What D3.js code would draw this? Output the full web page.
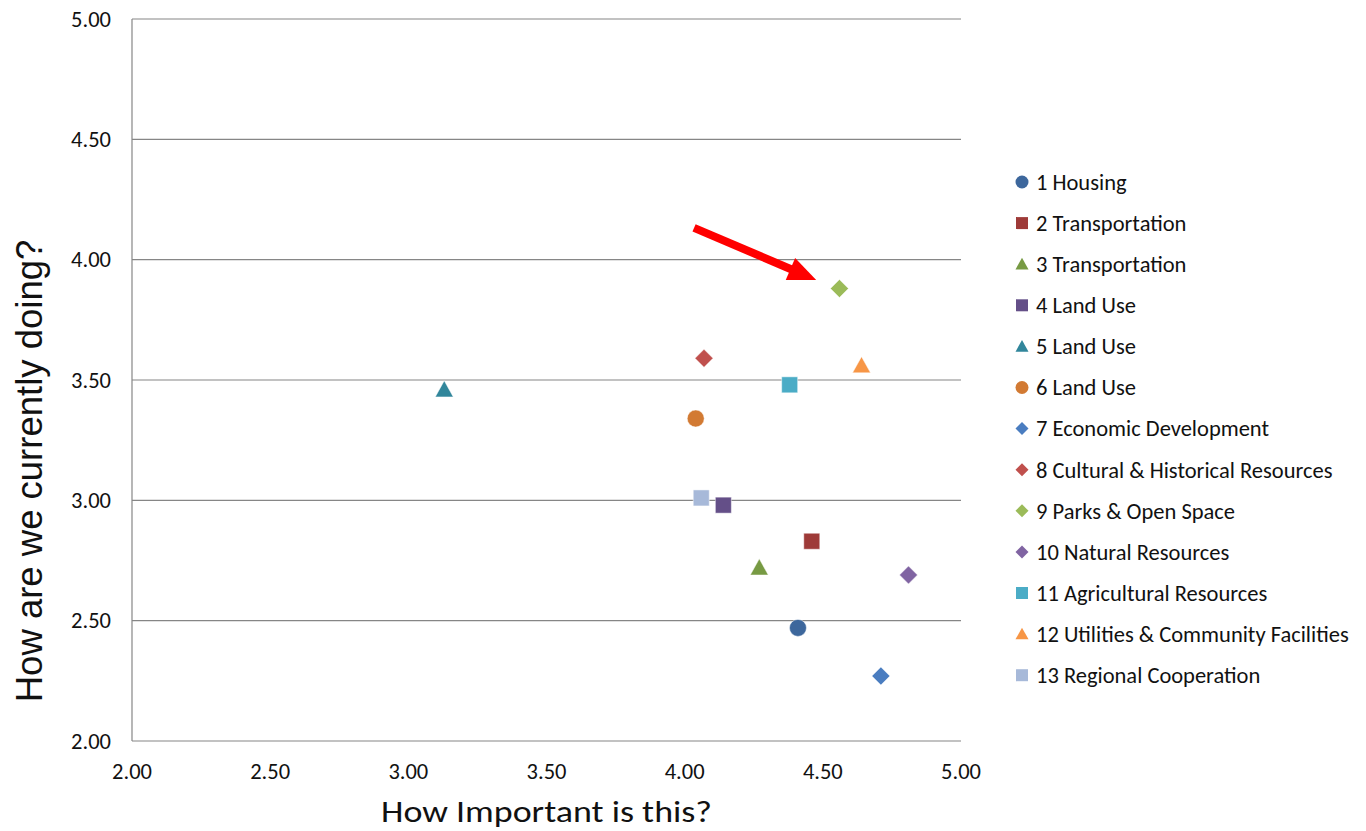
<!DOCTYPE html>
<html>
<head>
<meta charset="utf-8">
<script src="https://cdn.jsdelivr.net/npm/d3@7"></script>
<style>
  body { margin: 0; background: #fff; }
  svg text { font-family: Calibri, Carlito, Lato, "Open Sans", sans-serif; fill: #111; }
</style>
</head>
<body>
<div id="chart"></div>
<script>
// topic names, numbered as in the survey
const topics = [
  '1 Housing', '2 Transportation', '3 Transportation', '4 Land Use', '5 Land Use',
  '6 Land Use', '7 Economic Development', '8 Cultural & Historical Resources',
  '9 Parks & Open Space', '10 Natural Resources', '11 Agricultural Resources',
  '12 Utilities & Community Facilities', '13 Regional Cooperation'
];
// How important is this?
const importance = [4.41, 4.46, 4.27, 4.14, 3.13, 4.04, 4.71, 4.07, 4.56, 4.81, 4.38, 4.64, 4.06];
// How are we currently doing?
const performance = [2.47, 2.83, 2.72, 2.98, 3.46, 3.34, 2.27, 3.59, 3.88, 2.69, 3.48, 3.56, 3.01];
const shapes = ['circle', 'square', 'triangle', 'square', 'triangle', 'circle', 'diamond',
  'diamond', 'diamond', 'diamond', 'square', 'triangle', 'square'];
const colors = ['#3d679c', '#9e3a38', '#779a43', '#644f88', '#31869b', '#d27a33', '#4a7dc0',
  '#c0504d', '#9bbb59', '#8064a2', '#4bacc6', '#f79646', '#a7b9d9'];
const tickValues = [2.0, 2.5, 3.0, 3.5, 4.0, 4.5, 5.0];
// annotation arrow, in data units [importance, performance]
const arrowFrom = [4.034, 4.132];
const arrowTo = [4.476, 3.916];

const data = topics.map((name, i) => ({
  name: name,
  x: importance[i],
  y: performance[i],
  shape: shapes[i],
  color: colors[i]
}));

const width = 1366, height = 831;
const margin = { top: 19, left: 132, right: 405, bottom: 90 };
const plotW = width - margin.left - margin.right;
const plotH = height - margin.top - margin.bottom;

const svg = d3.select('#chart').append('svg')
  .attr('width', width)
  .attr('height', height);

const g = svg.append('g')
  .attr('transform', `translate(${margin.left},${margin.top})`);

const x = d3.scaleLinear().domain([2, 5]).range([0, plotW]);
const y = d3.scaleLinear().domain([2, 5]).range([plotH, 0]);

// gridlines
g.append('g')
  .selectAll('line.grid')
  .data(tickValues.slice(1))
  .enter()
  .append('line')
  .attr('class', 'grid')
  .attr('x1', 0)
  .attr('x2', plotW)
  .attr('y1', d => y(d))
  .attr('y2', d => y(d))
  .attr('stroke', '#868686')
  .attr('stroke-width', 1.2);

// axes lines, no tick marks
g.append('line')
  .attr('x1', 0).attr('x2', 0)
  .attr('y1', 0).attr('y2', plotH)
  .attr('stroke', '#868686').attr('stroke-width', 1.2);
g.append('line')
  .attr('x1', 0).attr('x2', plotW)
  .attr('y1', plotH).attr('y2', plotH)
  .attr('stroke', '#868686').attr('stroke-width', 1.2);

const fmt = d3.format('.2f');

// tick labels
g.append('g')
  .selectAll('text.xtick')
  .data(tickValues)
  .enter()
  .append('text')
  .attr('class', 'xtick')
  .attr('x', d => x(d))
  .attr('y', plotH + 38)
  .attr('text-anchor', 'middle')
  .style('font-size', '22.5px')
  .text(fmt);

g.append('g')
  .selectAll('text.ytick')
  .data(tickValues)
  .enter()
  .append('text')
  .attr('class', 'ytick')
  .attr('x', -21)
  .attr('y', d => y(d))
  .attr('dy', '0.34em')
  .attr('text-anchor', 'end')
  .style('font-size', '22.5px')
  .text(fmt);

// axis titles
svg.append('text')
  .attr('x', margin.left + x(3.5))
  .attr('y', 822)
  .attr('text-anchor', 'middle')
  .attr('textLength', 331)
  .attr('lengthAdjust', 'spacingAndGlyphs')
  .style('font-size', '31px')
  .text('How Important is this?');

svg.append('text')
  .attr('transform', 'translate(42, 471) rotate(-90)')
  .attr('text-anchor', 'middle')
  .style('font-family', '"Liberation Sans", Arial, sans-serif')
  .style('font-size', '36.5px')
  .text('How are we currently doing?');

// marker path builder
function markerPath(shape, s) {
  if (shape === 'circle') return d3.symbol(d3.symbolCircle, Math.PI * s * s / 4)();
  if (shape === 'square') return d3.symbol(d3.symbolSquare, s * s)();
  if (shape === 'diamond') {
    const h = s / 2;
    return `M0,${-h}L${h},0L0,${h}L${-h},0Z`;
  }
  const h = s * 0.9;
  return `M0,${-h * 0.55}L${s / 2},${h * 0.45}L${-s / 2},${h * 0.45}Z`;
}

const markerSize = { circle: 17, square: 16, triangle: 18, diamond: 18 };

g.append('g')
  .selectAll('path.point')
  .data(data)
  .enter()
  .append('path')
  .attr('class', 'point')
  .attr('transform', d => `translate(${x(d.x)},${y(d.y)})`)
  .attr('d', d => markerPath(d.shape, markerSize[d.shape]))
  .attr('fill', d => d.color)
  .attr('stroke', '#fff')
  .attr('stroke-opacity', 0.6)
  .attr('stroke-width', 0.8);

// red arrow annotation
const ax1 = x(arrowFrom[0]), ay1 = y(arrowFrom[1]);
const ax2 = x(arrowTo[0]), ay2 = y(arrowTo[1]);
const ang = Math.atan2(ay2 - ay1, ax2 - ax1);
const headLen = 28, headW = 12;
const bx = ax2 - headLen * Math.cos(ang), by = ay2 - headLen * Math.sin(ang);
g.append('line')
  .attr('x1', ax1).attr('y1', ay1)
  .attr('x2', bx + 2 * Math.cos(ang)).attr('y2', by + 2 * Math.sin(ang))
  .attr('stroke', '#ff0000')
  .attr('stroke-width', 8);
g.append('path')
  .attr('d', `M${ax2},${ay2}` +
    `L${bx + headW * Math.sin(ang)},${by - headW * Math.cos(ang)}` +
    `L${bx - headW * Math.sin(ang)},${by + headW * Math.cos(ang)}Z`)
  .attr('fill', '#ff0000');

// legend
const legend = svg.append('g')
  .attr('transform', 'translate(1022, 182)');

const items = legend.selectAll('g.item')
  .data(data)
  .enter()
  .append('g')
  .attr('class', 'item')
  .attr('transform', (d, i) => `translate(0, ${i * 41.1})`);

const legendSize = { circle: 13, square: 12, triangle: 13, diamond: 13 };
items.append('path')
  .attr('d', d => markerPath(d.shape, legendSize[d.shape]))
  .attr('fill', d => d.color);

items.append('text')
  .attr('x', 14)
  .attr('dy', '0.35em')
  .style('font-size', '22.5px')
  .text(d => d.name);
</script>
</body>
</html>
